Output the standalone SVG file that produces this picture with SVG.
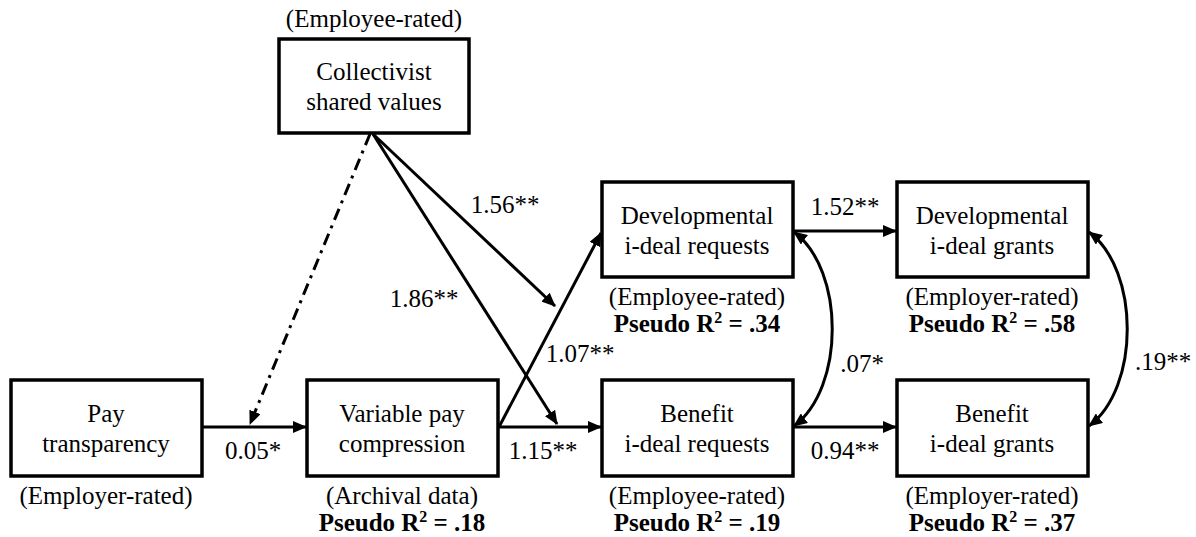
<svg xmlns="http://www.w3.org/2000/svg" width="1196" height="537" viewBox="0 0 1196 537">
<style>
text{font-size:25px;fill:#000;text-anchor:middle}
.s{font-family:'Liberation Serif';}
.b{font-family:'Liberation Serif';font-weight:bold}
.box{fill:#fff;stroke:#000;stroke-width:3.5}
.ln{fill:none;stroke:#000;stroke-width:3}
.dd{stroke-dasharray:12 6 3 6}
</style>
<defs>
<marker id="ah" markerUnits="userSpaceOnUse" markerWidth="14" markerHeight="12" refX="13" refY="6" orient="auto-start-reverse" viewBox="0 0 14 12">
<path d="M0,0 L14,6 L0,12 z" fill="#000"/>
</marker>
</defs>
<rect width="1196" height="537" fill="#fff"/>
<g id="connectors">
<line class="ln" x1="202" y1="427" x2="306" y2="427" marker-end="url(#ah)"/>
<line class="ln" x1="498" y1="427" x2="601" y2="427" marker-end="url(#ah)"/>
<line class="ln" x1="499" y1="427" x2="601" y2="233" marker-end="url(#ah)"/>
<line class="ln" x1="793" y1="231" x2="896" y2="231" marker-end="url(#ah)"/>
<line class="ln" x1="793" y1="427" x2="896" y2="427" marker-end="url(#ah)"/>
<line class="ln" x1="373" y1="134" x2="555" y2="306" marker-end="url(#ah)"/>
<line class="ln" x1="373" y1="134" x2="557" y2="424" marker-end="url(#ah)"/>
<line class="ln dd" x1="370" y1="134" x2="250" y2="424" marker-end="url(#ah)"/>
<path class="ln" d="M794 232 C845 270 845 388 794 426" marker-start="url(#ah)" marker-end="url(#ah)"/>
<path class="ln" d="M1089 232 C1140 270 1140 388 1089 426" marker-start="url(#ah)" marker-end="url(#ah)"/>
<text class="s" x="253" y="459">0.05*</text>
<text class="s" x="543" y="459">1.15**</text>
<text class="s" x="845" y="459">0.94**</text>
<text class="s" x="845" y="215">1.52**</text>
<text class="s" x="505" y="213">1.56**</text>
<text class="s" x="424" y="307">1.86**</text>
<text class="s" x="580" y="362">1.07**</text>
<text class="s" x="862" y="372">.07*</text>
<text class="s" x="1163" y="370">.19**</text>
</g>
<g id="collectivist">
<text class="s" x="374" y="27">(Employee-rated)</text>
<rect class="box" x="279" y="39" width="190" height="94"/>
<text class="s" x="374" y="80">Collectivist</text>
<text class="s" x="374" y="110">shared values</text>
</g>
<g id="pay-transparency">
<rect class="box" x="11" y="380" width="191" height="96"/>
<text class="s" x="106" y="422">Pay</text>
<text class="s" x="106" y="452">transparency</text>
<text class="s" x="106" y="504">(Employer-rated)</text>
</g>
<g id="variable-pay">
<rect class="box" x="307" y="380" width="191" height="96"/>
<text class="s" x="402" y="422">Variable pay</text>
<text class="s" x="402" y="452">compression</text>
<text class="s" x="402" y="504">(Archival data)</text>
<text class="b" x="402" y="531">Pseudo R<tspan font-size="16" dy="-9">2</tspan><tspan dy="9"> = .18</tspan></text>
</g>
<g id="dev-requests">
<rect class="box" x="602" y="182" width="191" height="95"/>
<text class="s" x="697" y="224">Developmental</text>
<text class="s" x="697" y="254">i-deal requests</text>
<text class="s" x="697" y="305">(Employee-rated)</text>
<text class="b" x="697" y="332">Pseudo R<tspan font-size="16" dy="-9">2</tspan><tspan dy="9"> = .34</tspan></text>
</g>
<g id="dev-grants">
<rect class="box" x="897" y="182" width="191" height="95"/>
<text class="s" x="992" y="224">Developmental</text>
<text class="s" x="992" y="254">i-deal grants</text>
<text class="s" x="992" y="305">(Employer-rated)</text>
<text class="b" x="992" y="332">Pseudo R<tspan font-size="16" dy="-9">2</tspan><tspan dy="9"> = .58</tspan></text>
</g>
<g id="benefit-requests">
<rect class="box" x="602" y="380" width="191" height="96"/>
<text class="s" x="697" y="422">Benefit</text>
<text class="s" x="697" y="452">i-deal requests</text>
<text class="s" x="697" y="504">(Employee-rated)</text>
<text class="b" x="697" y="531">Pseudo R<tspan font-size="16" dy="-9">2</tspan><tspan dy="9"> = .19</tspan></text>
</g>
<g id="benefit-grants">
<rect class="box" x="897" y="380" width="191" height="96"/>
<text class="s" x="992" y="422">Benefit</text>
<text class="s" x="992" y="452">i-deal grants</text>
<text class="s" x="992" y="504">(Employer-rated)</text>
<text class="b" x="992" y="531">Pseudo R<tspan font-size="16" dy="-9">2</tspan><tspan dy="9"> = .37</tspan></text>
</g>
</svg>
